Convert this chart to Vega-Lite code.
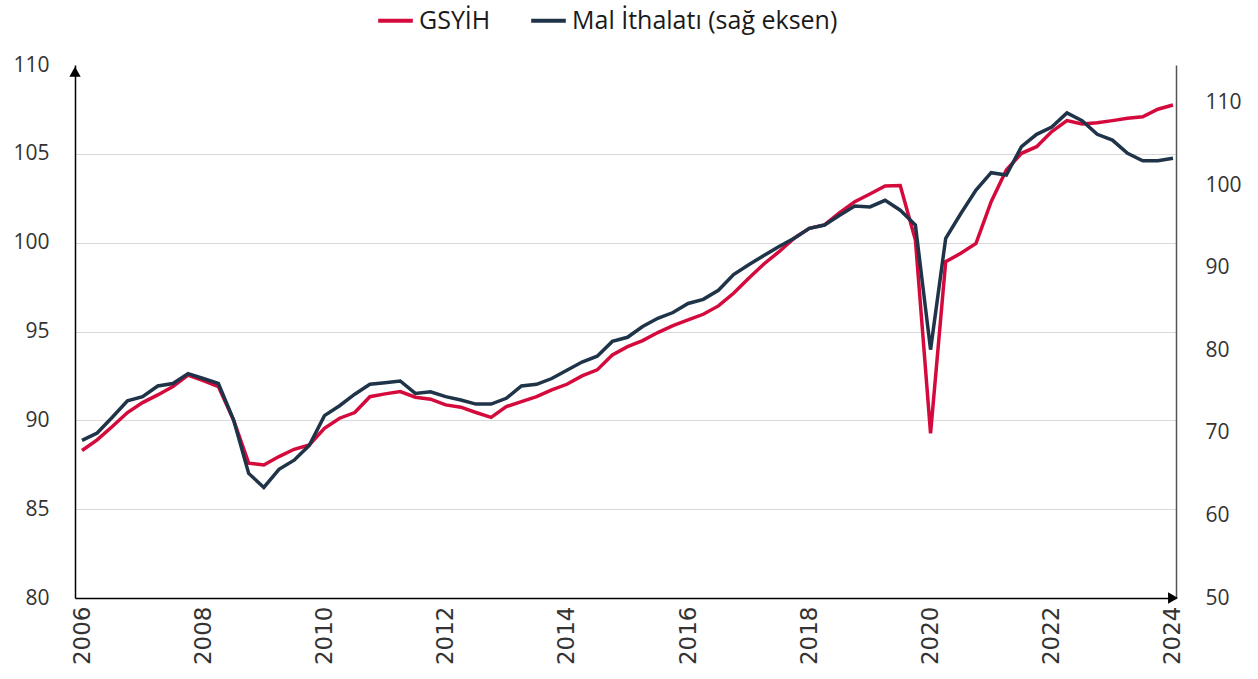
{
  "$schema": "https://vega.github.io/schema/vega-lite/v6.json",
  "width": 1101,
  "height": 533,
  "autosize": {"type": "none"},
  "padding": {"left": 75, "top": 65, "right": 82, "bottom": 81},
  "background": "white",
  "config": {
    "view": {"stroke": null},
    "font": "Open Sans",
    "axis": {"labelFont": "Open Sans", "labelColor": "#333333", "labelFontSize": 21, "title": null}
  },
  "data": {"values": [
    {"t": 2006, "gsyih": 88.30, "ithalat": 69.1},
    {"t": 2006.25, "gsyih": 88.90, "ithalat": 70.0},
    {"t": 2006.5, "gsyih": 89.65, "ithalat": 71.9},
    {"t": 2006.75, "gsyih": 90.44, "ithalat": 73.9},
    {"t": 2007, "gsyih": 91.00, "ithalat": 74.4},
    {"t": 2007.25, "gsyih": 91.43, "ithalat": 75.7},
    {"t": 2007.5, "gsyih": 91.90, "ithalat": 76.0},
    {"t": 2007.75, "gsyih": 92.55, "ithalat": 77.2},
    {"t": 2008, "gsyih": 92.23, "ithalat": 76.6},
    {"t": 2008.25, "gsyih": 91.90, "ithalat": 76.0},
    {"t": 2008.5, "gsyih": 90.02, "ithalat": 71.6},
    {"t": 2008.75, "gsyih": 87.59, "ithalat": 65.1},
    {"t": 2009, "gsyih": 87.49, "ithalat": 63.4},
    {"t": 2009.25, "gsyih": 87.96, "ithalat": 65.6},
    {"t": 2009.5, "gsyih": 88.37, "ithalat": 66.7},
    {"t": 2009.75, "gsyih": 88.62, "ithalat": 68.5},
    {"t": 2010, "gsyih": 89.55, "ithalat": 72.1},
    {"t": 2010.25, "gsyih": 90.12, "ithalat": 73.3},
    {"t": 2010.5, "gsyih": 90.44, "ithalat": 74.7},
    {"t": 2010.75, "gsyih": 91.33, "ithalat": 75.9},
    {"t": 2011, "gsyih": 91.49, "ithalat": 76.1},
    {"t": 2011.25, "gsyih": 91.62, "ithalat": 76.3},
    {"t": 2011.5, "gsyih": 91.30, "ithalat": 74.8},
    {"t": 2011.75, "gsyih": 91.19, "ithalat": 75.0},
    {"t": 2012, "gsyih": 90.87, "ithalat": 74.4},
    {"t": 2012.25, "gsyih": 90.74, "ithalat": 74.0},
    {"t": 2012.5, "gsyih": 90.44, "ithalat": 73.5},
    {"t": 2012.75, "gsyih": 90.17, "ithalat": 73.5},
    {"t": 2013, "gsyih": 90.77, "ithalat": 74.2},
    {"t": 2013.25, "gsyih": 91.05, "ithalat": 75.7},
    {"t": 2013.5, "gsyih": 91.33, "ithalat": 75.9},
    {"t": 2013.75, "gsyih": 91.71, "ithalat": 76.6},
    {"t": 2014, "gsyih": 92.03, "ithalat": 77.6},
    {"t": 2014.25, "gsyih": 92.50, "ithalat": 78.6},
    {"t": 2014.5, "gsyih": 92.84, "ithalat": 79.3},
    {"t": 2014.75, "gsyih": 93.68, "ithalat": 81.1},
    {"t": 2015, "gsyih": 94.15, "ithalat": 81.6},
    {"t": 2015.25, "gsyih": 94.49, "ithalat": 82.9},
    {"t": 2015.5, "gsyih": 94.94, "ithalat": 83.9},
    {"t": 2015.75, "gsyih": 95.33, "ithalat": 84.6},
    {"t": 2016, "gsyih": 95.65, "ithalat": 85.7},
    {"t": 2016.25, "gsyih": 95.97, "ithalat": 86.2},
    {"t": 2016.5, "gsyih": 96.44, "ithalat": 87.3},
    {"t": 2016.75, "gsyih": 97.15, "ithalat": 89.2},
    {"t": 2017, "gsyih": 98.00, "ithalat": 90.4},
    {"t": 2017.25, "gsyih": 98.80, "ithalat": 91.5},
    {"t": 2017.5, "gsyih": 99.49, "ithalat": 92.6},
    {"t": 2017.75, "gsyih": 100.25, "ithalat": 93.6},
    {"t": 2018, "gsyih": 100.81, "ithalat": 94.8},
    {"t": 2018.25, "gsyih": 101.00, "ithalat": 95.2},
    {"t": 2018.5, "gsyih": 101.69, "ithalat": 96.4},
    {"t": 2018.75, "gsyih": 102.31, "ithalat": 97.5},
    {"t": 2019, "gsyih": 102.74, "ithalat": 97.4},
    {"t": 2019.25, "gsyih": 103.19, "ithalat": 98.2},
    {"t": 2019.5, "gsyih": 103.22, "ithalat": 97.0},
    {"t": 2019.75, "gsyih": 100.15, "ithalat": 95.2},
    {"t": 2020, "gsyih": 89.27, "ithalat": 80.1},
    {"t": 2020.25, "gsyih": 98.93, "ithalat": 93.6},
    {"t": 2020.5, "gsyih": 99.40, "ithalat": 96.6},
    {"t": 2020.75, "gsyih": 99.96, "ithalat": 99.45},
    {"t": 2021, "gsyih": 102.31, "ithalat": 101.55},
    {"t": 2021.25, "gsyih": 104.09, "ithalat": 101.27},
    {"t": 2021.5, "gsyih": 105.03, "ithalat": 104.7},
    {"t": 2021.75, "gsyih": 105.40, "ithalat": 106.2},
    {"t": 2022, "gsyih": 106.25, "ithalat": 107.07},
    {"t": 2022.25, "gsyih": 106.87, "ithalat": 108.8},
    {"t": 2022.5, "gsyih": 106.68, "ithalat": 107.86},
    {"t": 2022.75, "gsyih": 106.75, "ithalat": 106.2},
    {"t": 2023, "gsyih": 106.87, "ithalat": 105.5},
    {"t": 2023.25, "gsyih": 107.00, "ithalat": 103.9},
    {"t": 2023.5, "gsyih": 107.09, "ithalat": 103.0},
    {"t": 2023.75, "gsyih": 107.51, "ithalat": 103.0},
    {"t": 2024, "gsyih": 107.75, "ithalat": 103.3}
  ]},
  "encoding": {
    "x": {
      "field": "t",
      "type": "quantitative",
      "scale": {"domain": [2005.8845, 2024.0495], "nice": false, "zero": false},
      "axis": {
        "values": [2006, 2008, 2010, 2012, 2014, 2016, 2018, 2020, 2022, 2024],
        "format": "d",
        "labelAngle": -90,
        "labelFont": "DejaVu Sans",
        "labelFontSize": 23,
        "ticks": false,
        "labelPadding": 8,
        "grid": false,
        "domainColor": "#000000",
        "domainWidth": 1.5,
        "labelFlush": false,
        "labelOverlap": false
      }
    }
  },
  "layer": [
    {
      "mark": {"type": "line", "strokeWidth": 3.5},
      "encoding": {
        "y": {
          "field": "gsyih",
          "type": "quantitative",
          "scale": {"domain": [80, 110], "nice": false, "zero": false},
          "axis": {
            "orient": "left",
            "values": [80, 85, 90, 95, 100, 105, 110],
            "ticks": false,
            "labelPadding": 26,
            "grid": true,
            "gridColor": {"condition": {"test": "datum.value == 110 || datum.value == 80", "value": "transparent"}, "value": "#d9d9d9"},
            "gridWidth": 1.2,
            "domainColor": "#000000",
            "domainWidth": 1.5
          }
        },
        "color": {
          "datum": "GSYİH",
          "type": "nominal",
          "scale": {"domain": ["GSYİH", "Mal İthalatı (sağ eksen)"], "range": ["#D50A3C", "#1F3349"]},
          "legend": {
            "title": null,
            "orient": "none",
            "legendX": 301,
            "legendY": -64,
            "direction": "horizontal",
            "symbolType": "stroke",
            "symbolStrokeWidth": 4,
            "symbolSize": 1200,
            "labelFont": "Open Sans",
            "labelFontSize": 25,
            "labelLimit": 0,
            "labelColor": "#1a1a1a",
            "labelOffset": 4,
            "columnPadding": 32
          }
        }
      }
    },
    {
      "mark": {"type": "line", "strokeWidth": 3.5},
      "encoding": {
        "y": {
          "field": "ithalat",
          "type": "quantitative",
          "scale": {"domain": [50, 114.6], "nice": false, "zero": false},
          "axis": {
            "orient": "right",
            "values": [50, 60, 70, 80, 90, 100, 110],
            "ticks": true,
            "tickSize": 26,
            "tickOpacity": 0,
            "labelPadding": 3,
            "grid": false,
            "domainColor": "#555555",
            "domainWidth": 1.5
          }
        },
        "color": {"datum": "Mal İthalatı (sağ eksen)", "type": "nominal"}
      }
    },
    {
      "data": {"values": [
        {"ax": 2005.8845, "ay": 109.62, "yon": "yukari"},
        {"ax": 2024.0, "ay": 80, "yon": "sag"}
      ]},
      "mark": {"type": "point", "filled": true, "color": "#000000", "size": 130, "opacity": 1, "clip": false},
      "encoding": {
        "x": {"field": "ax", "type": "quantitative"},
        "y": {"field": "ay", "type": "quantitative", "scale": {"domain": [80, 110], "nice": false, "zero": false}, "axis": null},
        "shape": {"field": "yon", "type": "nominal", "scale": {"domain": ["yukari", "sag"], "range": ["triangle-up", "triangle-right"]}, "legend": null}
      }
    }
  ],
  "resolve": {"scale": {"y": "independent"}}
}
